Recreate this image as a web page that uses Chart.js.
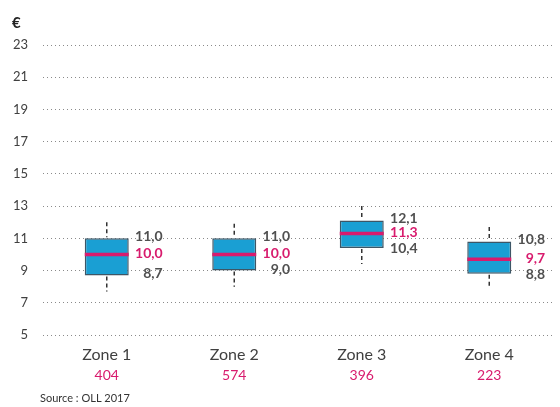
<!DOCTYPE html>
<html>
<head>
<meta charset="utf-8">
<script src="https://cdn.jsdelivr.net/npm/chart.js@4"></script>
<style>
  html, body { margin: 0; padding: 0; background: #fff; }
  #wrap { width: 560px; height: 407px; position: relative; }
</style>
</head>
<body>
<div id="wrap"><canvas id="chart"></canvas></div>
<script>
const zones = ["Zone 1", "Zone 2", "Zone 3", "Zone 4"];
const counts = ["404", "574", "396", "223"];
const whiskerLow = [7.7, 8.0, 9.4, 7.9];
const q1 = [8.7, 9.0, 10.4, 8.8];
const median = [10.0, 10.0, 11.3, 9.7];
const q3 = [11.0, 11.0, 12.1, 10.8];
const whiskerHigh = [12.0, 11.9, 13.0, 11.7];
const yTicks = [5, 7, 9, 11, 13, 15, 17, 19, 21, 23];

const fmt = (v) => v.toFixed(1).replace(".", ",");
const FONT = "Lato, 'Open Sans', sans-serif";
const PINK = "#d81b6d";
const GREY = "#505050";

// draws whiskers, median line and value labels on top of the floating bars
const boxExtras = {
  id: "boxExtras",
  afterDatasetsDraw(chart) {
    const ctx = chart.ctx;
    const y = chart.scales.y;
    const meta = chart.getDatasetMeta(0);
    ctx.save();
    meta.data.forEach((bar, i) => {
      const cx = bar.x;
      const half = bar.width / 2;
      const yTop = y.getPixelForValue(q3[i]);
      const yBot = y.getPixelForValue(q1[i]);
      const yMed = y.getPixelForValue(median[i]);

      // whiskers
      ctx.strokeStyle = "#333";
      ctx.lineWidth = 1.5;
      ctx.setLineDash([4, 3]);
      ctx.beginPath();
      ctx.moveTo(cx, y.getPixelForValue(whiskerHigh[i]));
      ctx.lineTo(cx, yTop - 1);
      ctx.moveTo(cx, yBot + 1);
      ctx.lineTo(cx, y.getPixelForValue(whiskerLow[i]));
      ctx.stroke();
      ctx.setLineDash([]);

      // median
      ctx.strokeStyle = PINK;
      ctx.lineWidth = 3.5;
      ctx.beginPath();
      ctx.moveTo(cx - half, yMed);
      ctx.lineTo(cx + half, yMed);
      ctx.stroke();

      // labels
      const tx = cx + half + 34;
      ctx.font = "bold 14px " + FONT;
      ctx.textAlign = "right";
      ctx.textBaseline = "middle";
      ctx.fillStyle = GREY;
      ctx.fillText(fmt(q3[i]), tx, Math.min(yTop - 2, yMed - 15));
      ctx.fillText(fmt(q1[i]), tx, Math.max(yBot - 2, yMed + 15));
      ctx.fillStyle = PINK;
      ctx.fillText(fmt(median[i]), tx, yMed - 1);
    });

    ctx.fillStyle = "#222";
    ctx.textAlign = "left";
    ctx.textBaseline = "middle";
    ctx.font = "bold 15px " + FONT;
    ctx.fillText("€", 12, 23);
    ctx.font = "11px " + FONT;
    ctx.fillStyle = "#333";
    ctx.fillText("Source : OLL 2017", 40, 398);
    ctx.restore();
  }
};

new Chart(document.getElementById("chart"), {
  type: "bar",
  data: {
    labels: zones,
    datasets: [
      {
        data: zones.map((z, i) => [q1[i], q3[i]]),
        backgroundColor: "#1a9fd3",
        borderColor: "#3d5666",
        borderWidth: 1.5,
        borderSkipped: false,
        barPercentage: 0.345,
        categoryPercentage: 1,
      },
    ],
  },
  options: {
    responsive: true,
    maintainAspectRatio: false,
    animation: false,
    layout: { padding: { top: 45, right: 7, bottom: 22, left: 0 } },
    plugins: {
      legend: { display: false },
      tooltip: { enabled: false },
    },
    scales: {
      x: {
        grid: { display: false, drawTicks: false },
        border: { display: false },
        ticks: { color: "#404040", font: { family: FONT, size: 16 }, padding: 10 },
        afterFit: (axis) => {
          axis.height = 30;
        },
      },
      x2: {
        type: "category",
        labels: counts,
        offset: true,
        position: "bottom",
        grid: { display: false, drawTicks: false },
        border: { display: false },
        ticks: { color: PINK, font: { family: FONT, size: 14 }, padding: 2 },
        afterFit: (axis) => {
          axis.height = 20;
        },
      },
      y: {
        min: 5,
        max: 23,
        afterBuildTicks: (axis) => {
          axis.ticks = yTicks.map((v) => ({ value: v }));
        },
        afterFit: (axis) => {
          axis.width = 43;
        },
        grid: { color: "#8a8a8a", lineWidth: 1, drawTicks: false },
        border: { display: false, dash: [1, 3] },
        ticks: { color: "#404040", font: { family: FONT, size: 13 }, padding: 15 },
      },
    },
  },
  plugins: [boxExtras],
});
</script>
</body>
</html>
